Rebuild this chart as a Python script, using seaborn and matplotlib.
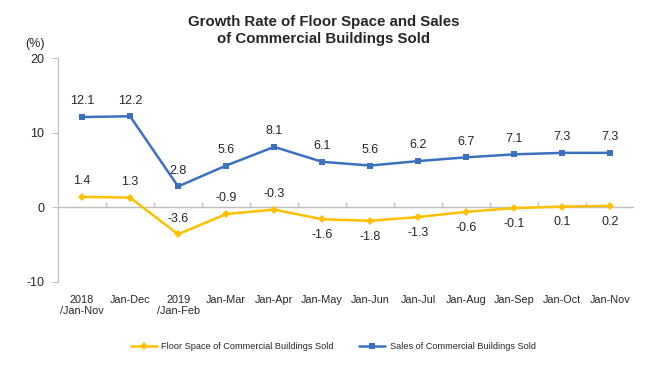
import pandas as pd
import matplotlib.pyplot as plt
import seaborn as sns

periods = ['2018\n/Jan-Nov', 'Jan-Dec', '2019\n/Jan-Feb', 'Jan-Mar', 'Jan-Apr', 'Jan-May',
           'Jan-Jun', 'Jan-Jul', 'Jan-Aug', 'Jan-Sep', 'Jan-Oct', 'Jan-Nov']
floor_space = [1.4, 1.3, -3.6, -0.9, -0.3, -1.6, -1.8, -1.3, -0.6, -0.1, 0.1, 0.2]
sales = [12.1, 12.2, 2.8, 5.6, 8.1, 6.1, 5.6, 6.2, 6.7, 7.1, 7.3, 7.3]
floor_label_above = [True, True, True, True, True, False, False, False, False, False, False, False]

FLOOR = 'Floor Space of Commercial Buildings Sold'
SALES = 'Sales of Commercial Buildings Sold'
YELLOW = '#FFC000'
BLUE = '#3C71BE'

sns.set_style('white')
plt.rcParams['font.family'] = ['Liberation Sans', 'DejaVu Sans']
plt.rcParams['axes.unicode_minus'] = False

df = pd.DataFrame({'period': periods * 2,
                   'value': floor_space + sales,
                   'series': [FLOOR] * len(periods) + [SALES] * len(periods)})

fig = plt.figure(figsize=(6.6, 3.77), dpi=100)
ax = fig.add_axes([0.088, 0.252, 0.873, 0.594])

sns.lineplot(data=df, x='period', y='value', hue='series', style='series',
             palette={FLOOR: YELLOW, SALES: BLUE},
             markers={FLOOR: 'D', SALES: 's'}, dashes=False,
             markersize=4.5, markeredgewidth=0, linewidth=1.8,
             sort=False, ax=ax)

ax.set_xlim(-0.5, len(periods) - 0.5)
ax.set_ylim(-10, 20)
ax.set_yticks([-10, 0, 10, 20])
ax.set_xlabel('')
ax.set_ylabel('')

# zero line with small category ticks
ax.axhline(0, color='#BFBFBF', linewidth=1, zorder=0)
ax.vlines([i + 0.5 for i in range(len(periods) - 1)], 0, 0.7,
          color='#BFBFBF', linewidth=1, zorder=0)

for s in ['top', 'right', 'bottom']:
    ax.spines[s].set_visible(False)
ax.spines['left'].set_color('#BFBFBF')
ax.tick_params(axis='y', left=True, length=4, color='#BFBFBF', labelsize=9, pad=6)
ax.tick_params(axis='x', bottom=False, labelsize=7.8, pad=6)
for t in ax.get_xticklabels():
    t.set_linespacing(1.1)

ax.text(-0.04, 1.035, '(%)', transform=ax.transAxes, fontsize=9, ha='center', va='bottom')

for i, v in enumerate(sales):
    ax.annotate(f'{v:.1f}', (i, v), xytext=(0, 7), textcoords='offset points',
                ha='center', va='bottom', fontsize=9)
for i, v in enumerate(floor_space):
    if floor_label_above[i]:
        ax.annotate(f'{v:.1f}', (i, v), xytext=(0, 7), textcoords='offset points',
                    ha='center', va='bottom', fontsize=9)
    else:
        ax.annotate(f'{v:.1f}', (i, v), xytext=(0, -7), textcoords='offset points',
                    ha='center', va='top', fontsize=9)

fig.suptitle('Growth Rate of Floor Space and Sales\nof Commercial Buildings Sold',
             x=0.49, y=0.96, fontsize=10.8, fontweight='bold', linespacing=1.3)

handles, labels = ax.get_legend_handles_labels()
ax.legend(handles, labels, loc='center', bbox_to_anchor=(0.505, 0.08),
          bbox_transform=fig.transFigure, ncol=2, frameon=False, fontsize=6.6,
          handlelength=2.8, columnspacing=2.8, handletextpad=0.5)

fig.savefig('out.png', dpi=100)
